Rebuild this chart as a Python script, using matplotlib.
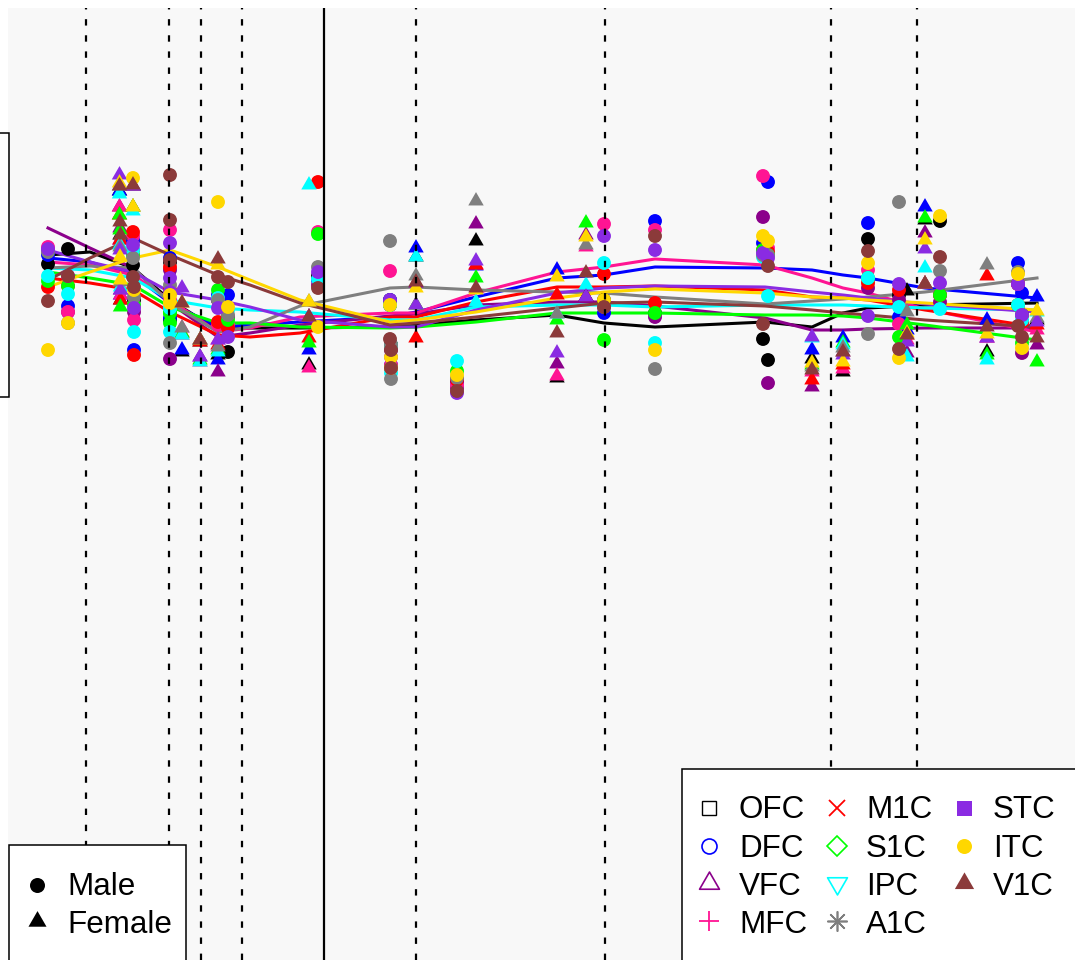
import numpy as np
import matplotlib
matplotlib.use("Agg")
import matplotlib.pyplot as plt
from matplotlib.path import Path
from matplotlib.transforms import Affine2D
from matplotlib.lines import Line2D
from matplotlib.patches import Rectangle

plt.rcParams['font.family'] = ['Liberation Sans', 'DejaVu Sans']
plt.rcParams['lines.scale_dashes'] = False

# ---------------- data ----------------
regions = ["OFC", "DFC", "VFC", "MFC", "M1C", "S1C", "IPC", "A1C", "STC", "ITC", "V1C"]
region_colors = ["#000000", "#0000FF", "#8B008B", "#FF1493", "#FF0000", "#00FF00",
                 "#00FFFF", "#7F7F7F", "#8A2BE2", "#FFD700", "#8B3A3A"]

# donor position on the (log) age axis and sex
donor_age_pos = [0.48, 0.68, 1.195, 1.20, 1.205, 1.33, 1.34, 1.33, 1.70, 1.70, 1.70, 1.82, 2.00,
                 2.18, 2.18, 2.28, 3.09, 3.18, 3.90, 3.91, 3.91, 4.16, 4.57, 4.76, 5.57, 5.86,
                 6.04, 6.55, 7.63, 7.68, 8.12, 8.43, 8.68, 8.99, 9.07, 9.25, 9.40, 9.87, 10.18,
                 10.22, 10.37]
donor_sex = ["M", "M", "F", "F", "F", "M", "M", "F", "M", "M", "M", "F", "F",
             "M", "F", "M", "F", "M", "M", "M", "M", "F", "M", "F", "F", "F",
             "M", "M", "M", "M", "F", "F", "M", "M", "F", "F", "M", "F", "M",
             "M", "F"]

expr_OFC = [7.36, 7.51, 8.09, 7.65, 7.00, 7.35, 7.00, 8.14, 7.38, 6.80, 7.08, 6.48, 6.58, 7.00, 6.45,
            6.48, 6.35, 7.24, 7.00, 6.55, 6.32, 7.43, 6.20, 7.59, 6.22, 7.03, 7.00, 6.87, 6.61, 6.40,
            6.41, 6.28, 7.61, 7.05, 7.09, 7.80, 7.79, 6.48, 7.16, 6.85, 6.80]
expr_DFC = [7.45, 6.94, 8.09, 7.60, 7.05, 7.60, 6.50, 8.14, 7.42, 6.82, 7.08, 6.50, 6.60, 7.05, 6.40,
            7.05, 6.50, 7.20, 7.00, 6.55, 6.35, 7.52, 6.18, 7.34, 7.30, 7.03, 6.87, 7.79, 7.57, 8.18,
            6.50, 6.62, 7.77, 6.83, 6.70, 7.93, 7.05, 6.80, 7.37, 7.07, 7.03]
expr_VFC = [7.50, 6.88, 7.93, 7.72, 7.10, 7.50, 6.88, 8.14, 7.30, 6.41, 7.08, 6.65, 6.43, 7.00, 6.28,
            6.83, 6.83, 7.15, 6.95, 6.50, 6.32, 7.17, 6.12, 7.76, 6.36, 7.65, 6.93, 6.83, 7.83, 6.17,
            6.13, 6.48, 7.12, 7.00, 6.47, 7.67, 6.98, 6.62, 7.16, 6.47, 6.55]
expr_MFC = [7.53, 6.88, 7.93, 7.60, 7.05, 7.64, 6.80, 8.14, 7.70, 7.00, 7.08, 6.72, 6.38, 6.75, 6.60,
            6.75, 6.32, 7.68, 7.29, 6.55, 6.35, 6.95, 6.15, 7.35, 6.24, 7.53, 7.76, 7.70, 8.24, 7.52,
            6.28, 6.31, 7.30, 6.76, 6.60, 7.16, 7.05, 6.62, 7.16, 6.78, 6.70]
expr_M1C = [7.13, 7.14, 7.85, 7.60, 7.00, 7.68, 6.45, 7.93, 7.33, 7.10, 7.08, 6.67, 6.58, 6.78, 6.55,
            6.72, 6.62, 8.18, 6.95, 6.55, 6.32, 6.62, 6.20, 7.35, 7.05, 7.03, 7.26, 6.97, 7.50, 7.48,
            6.20, 6.35, 7.17, 7.10, 6.65, 7.16, 7.05, 7.24, 6.95, 6.78, 6.75]
expr_S1C = [7.19, 7.14, 7.85, 7.70, 6.93, 7.45, 6.95, 7.93, 6.87, 6.77, 6.87, 6.67, 6.40, 7.10, 6.50,
            6.80, 6.57, 7.66, 6.95, 6.55, 6.32, 6.95, 6.29, 7.22, 6.80, 7.77, 6.60, 6.87, 7.50, 7.45,
            6.35, 6.57, 7.22, 6.63, 6.75, 7.82, 7.05, 6.45, 6.95, 6.57, 6.38]
expr_IPC = [7.24, 7.06, 8.06, 7.55, 7.13, 7.50, 6.68, 7.89, 6.92, 6.68, 6.92, 6.65, 6.38, 7.02, 6.48,
            6.90, 8.15, 7.21, 6.95, 6.55, 6.27, 7.43, 6.39, 6.98, 6.86, 7.15, 7.37, 6.57, 7.43, 7.04,
            6.62, 6.55, 7.22, 6.93, 6.43, 7.32, 6.91, 6.40, 6.95, 6.80, 6.88]
expr_A1C = [7.48, 6.77, 8.14, 7.53, 7.18, 7.42, 7.03, 8.14, 7.15, 6.57, 7.08, 6.72, 6.60, 7.00, 6.53,
            6.85, 6.98, 7.33, 7.59, 6.55, 6.21, 7.24, 6.22, 7.99, 6.86, 7.55, 6.93, 6.31, 7.45, 7.45,
            6.33, 6.52, 6.66, 7.98, 6.88, 7.16, 7.29, 7.35, 7.28, 6.85, 6.82]
expr_STC = [7.51, 7.24, 8.25, 7.50, 7.10, 7.55, 6.92, 8.14, 7.57, 7.22, 7.08, 7.12, 6.43, 6.92, 6.60,
            6.63, 6.83, 7.28, 7.00, 6.43, 6.32, 6.95, 6.07, 7.39, 6.47, 7.03, 7.64, 7.50, 7.47, 7.42,
            6.63, 6.45, 6.84, 7.16, 6.58, 7.51, 7.17, 6.62, 7.16, 6.85, 6.78]
expr_ITC = [6.50, 6.77, 8.17, 7.43, 7.20, 8.22, 7.10, 7.93, 6.97, 7.05, 6.97, 6.97, 6.60, 7.98, 7.35,
            6.93, 6.98, 6.73, 6.95, 6.43, 6.32, 7.12, 6.25, 7.10, 7.23, 7.63, 7.00, 6.50, 7.64, 7.59,
            6.37, 6.38, 7.37, 6.42, 6.67, 7.60, 7.84, 6.66, 7.26, 6.52, 6.89]
expr_V1C = [6.99, 7.24, 8.14, 7.78, 7.65, 7.23, 7.13, 8.15, 8.25, 7.80, 7.40, 6.97, 6.60, 7.23, 7.41,
            7.18, 6.83, 7.12, 6.61, 6.50, 6.32, 7.18, 6.09, 7.12, 6.67, 7.27, 6.93, 7.64, 6.76, 7.34,
            6.30, 6.48, 7.49, 6.51, 6.65, 7.16, 7.43, 6.73, 6.74, 6.63, 6.62]

# smoothed trend per region, evaluated on a grid of age positions
trend_age_pos = [0.48, 0.90, 1.33, 1.70, 2.18, 2.50, 3.00, 3.90, 4.16, 4.76, 5.57, 6.04, 6.55,
                 7.65, 8.12, 8.43, 8.68, 9.25, 10.37]
trend_OFC = [7.45, 7.48, 7.32, 7.00, 6.70, 6.72, 6.72, 6.73, 6.75, 6.80, 6.85, 6.77, 6.73, 6.78, 6.73, 6.87, 6.92, 6.95, 6.97]
trend_DFC = [7.42, 7.38, 7.25, 6.97, 6.73, 6.75, 6.78, 6.83, 6.88, 7.03, 7.22, 7.25, 7.33, 7.32, 7.30, 7.25, 7.22, 7.12, 7.02]
trend_VFC = [7.72, 7.52, 7.32, 6.97, 6.63, 6.67, 6.75, 6.84, 6.86, 6.95, 6.98, 6.98, 6.94, 6.82, 6.70, 6.70, 6.71, 6.72, 6.72]
trend_MFC = [7.38, 7.35, 7.25, 7.00, 6.68, 6.72, 6.83, 6.87, 6.87, 7.07, 7.28, 7.33, 7.41, 7.35, 7.22, 7.12, 7.07, 6.91, 6.68]
trend_M1C = [7.22, 7.17, 7.10, 6.88, 6.65, 6.63, 6.67, 6.83, 6.83, 6.98, 7.13, 7.13, 7.14, 7.10, 7.03, 7.02, 7.00, 6.90, 6.73]
trend_S1C = [7.28, 7.22, 7.15, 6.93, 6.77, 6.77, 6.73, 6.72, 6.73, 6.78, 6.87, 6.87, 6.87, 6.85, 6.85, 6.84, 6.82, 6.75, 6.60]
trend_IPC = [7.32, 7.30, 7.22, 7.00, 6.92, 6.90, 6.88, 6.80, 6.80, 6.93, 6.95, 6.95, 6.93, 6.95, 6.95, 6.95, 6.94, 6.92, 6.90]
trend_A1C = [7.32, 7.34, 7.32, 6.97, 6.68, 6.73, 6.94, 7.12, 7.13, 7.10, 7.08, 7.07, 7.03, 6.96, 6.99, 7.01, 7.03, 7.08, 7.22]
trend_STC = [7.50, 7.38, 7.28, 7.08, 7.00, 6.93, 6.80, 6.73, 6.73, 6.90, 7.07, 7.12, 7.14, 7.13, 7.08, 7.05, 7.02, 6.96, 6.88]
trend_ITC = [7.13, 7.28, 7.42, 7.50, 7.33, 7.20, 7.00, 6.78, 6.80, 6.88, 7.02, 7.08, 7.11, 7.07, 7.03, 7.02, 7.00, 6.97, 6.90]
trend_V1C = [7.20, 7.42, 7.62, 7.45, 7.25, 7.15, 6.97, 6.75, 6.77, 6.83, 6.92, 6.97, 6.98, 6.94, 6.90, 6.87, 6.85, 6.80, 6.73]

# developmental period boundaries
period_breaks = [0.86, 1.69, 2.01, 2.42, 4.16, 6.05, 8.31, 9.17]
birth_pos = 3.24

expr_by_region = [expr_OFC, expr_DFC, expr_VFC, expr_MFC, expr_M1C, expr_S1C,
                  expr_IPC, expr_A1C, expr_STC, expr_ITC, expr_V1C]
trend_by_region = [trend_OFC, trend_DFC, trend_VFC, trend_MFC, trend_M1C, trend_S1C,
                   trend_IPC, trend_A1C, trend_STC, trend_ITC, trend_V1C]

# ---------------- figure ----------------
W, H = 1075, 960
fig = plt.figure(figsize=(W / 100, H / 100), dpi=100)
fig.patch.set_facecolor("white")
ax = fig.add_axes([8 / W, 0, 1 - 8 / W, 952 / H])
ax.set_facecolor("#F8F8F8")
ax.set_xlim(0.08, 10.75)
ax.set_ylim(0.40, 9.92)
for s in ax.spines.values():
    s.set_visible(False)
ax.set_xticks([])
ax.set_yticks([])

tri_up = Path([(0, 0.577), (-0.5, -0.289), (0.5, -0.289), (0, 0.577)],
              [Path.MOVETO, Path.LINETO, Path.LINETO, Path.CLOSEPOLY])
tri_down = Path([(0, -0.577), (-0.5, 0.289), (0.5, 0.289), (0, -0.577)],
                [Path.MOVETO, Path.LINETO, Path.LINETO, Path.CLOSEPOLY])

x_arr = np.array(donor_age_pos)
sex_arr = np.array(donor_sex)
male = sex_arr == "M"
female = sex_arr == "F"

for vals, col in zip(trend_by_region, region_colors):
    ax.plot(trend_age_pos, vals, color=col, lw=2.2, zorder=2, solid_joinstyle="round")

for vals, col in zip(expr_by_region, region_colors):
    v = np.array(vals)
    ax.scatter(x_arr[male], v[male], s=100, marker="o", color=col, edgecolors="none", zorder=3)
    ax.scatter(x_arr[female], v[female], s=165, marker=tri_up, color=col, edgecolors="none", zorder=3)

for xb in period_breaks:
    ax.axvline(xb, color="black", lw=1.6, linestyle=(0, (4.6, 7.0)), zorder=5)
ax.axvline(birth_pos, color="black", lw=1.6, zorder=5)

# ---------------- legends (pixel coordinates, origin top-left) ----------------
pix = Affine2D().scale(1, -1).translate(0, H)

def box(x0, y0, x1, y1):
    r = Rectangle((x0, y0), x1 - x0, y1 - y0, transform=pix, facecolor="white",
                  edgecolor="black", lw=1.1, zorder=10)
    fig.add_artist(r)

def mark(x, y, **kw):
    fig.add_artist(Line2D([x], [y], transform=pix, linestyle="none", zorder=11, **kw))

def label(x, y, s):
    fig.text(x, y, s, transform=pix, fontsize=22.6, va="baseline", ha="left", zorder=12)

# partial legend box on left edge
r = Rectangle((-20, 133), 28.5, 264, transform=pix, facecolor="none",
              edgecolor="black", lw=1.1, zorder=10)
fig.add_artist(r)

# sex legend
box(8.5, 845, 186, 975)
mark(37, 885, marker="o", ms=10.8, mfc="black", mec="black", mew=0)
mark(37, 921, marker=tri_up, ms=15, mfc="black", mec="black", mew=0)
label(67, 895, "Male")
label(67, 933, "Female")

# region legend
box(681.5, 769, 1090, 975)
col_x = [709, 837, 964]
text_x = [739, 866, 993]
row_marker_y = [808, 846, 883, 921]
row_base_y = [818, 857, 895, 933]
legend_markers = [
    dict(marker="s", ms=9.8, mfc="none", mew=1.0),
    dict(marker="o", ms=10.8, mfc="none", mew=1.2),
    dict(marker=tri_up, ms=16.5, mfc="none", mew=1.2),
    dict(marker="+", ms=15, mew=1.3),
    dict(marker="x", ms=11.5, mew=1.3),
    dict(marker="D", ms=10.5, mfc="none", mew=1.2),
    dict(marker=tri_down, ms=16.5, mfc="none", mew=1.2),
    dict(marker=(8, 2, 0), ms=14.5, mew=1.2),
    dict(marker="s", ms=10.8, mew=0),
    dict(marker="o", ms=10.8, mew=0),
    dict(marker=tri_up, ms=16, mew=0),
]
for i, (name, col) in enumerate(zip(regions, region_colors)):
    c, rr = divmod(i, 4)
    kw = dict(legend_markers[i])
    kw.setdefault("mfc", col)
    kw["mec"] = col
    mark(col_x[c], row_marker_y[rr], **kw)
    label(text_x[c], row_base_y[rr], name)

fig.savefig("out.png", dpi=100)
